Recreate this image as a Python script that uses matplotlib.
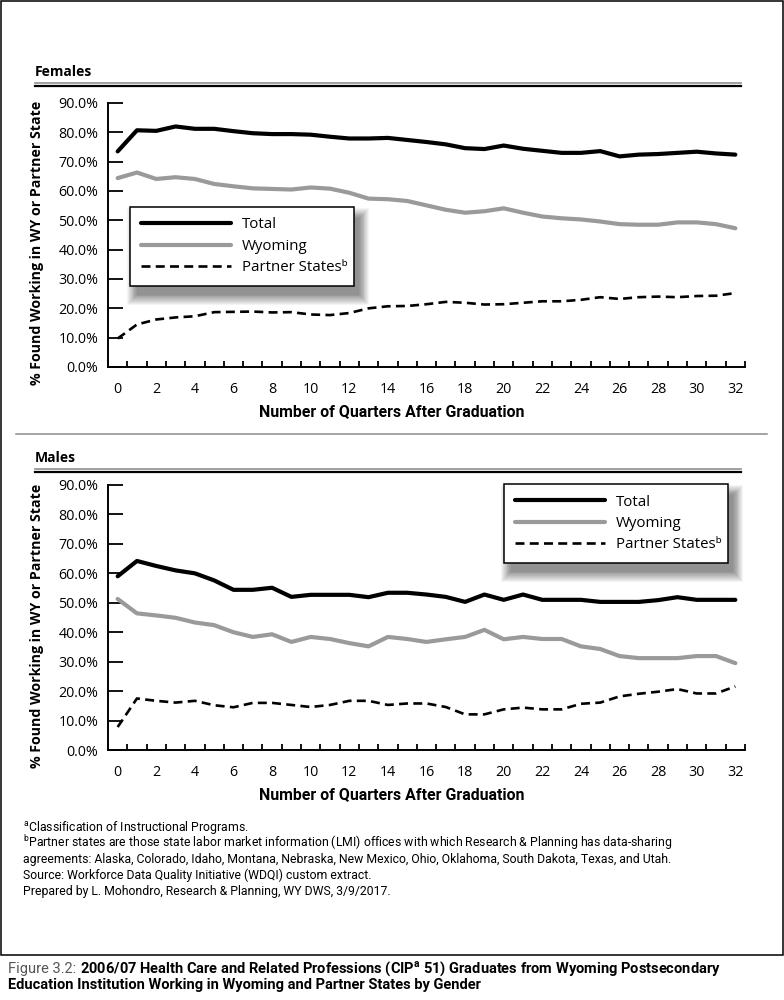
import matplotlib
matplotlib.use('Agg')
import matplotlib.pyplot as plt
from matplotlib.patches import Rectangle
from matplotlib.lines import Line2D
from matplotlib.transforms import IdentityTransform

# ---------------- data ----------------
quarters = list(range(33))
xtick_values = list(range(0, 33, 2))
ytick_values = list(range(0, 100, 10))

fem_total = [73.5, 80.7, 80.5, 82.0, 81.2, 81.2, 80.4, 79.7, 79.4, 79.4, 79.2, 78.5, 77.9,
             77.9, 78.1, 77.4, 76.7, 75.9, 74.6, 74.3, 75.5, 74.4, 73.7, 73.0, 73.0, 73.6,
             71.8, 72.4, 72.6, 73.0, 73.4, 72.8, 72.4]
fem_wyoming = [64.4, 66.3, 64.1, 64.7, 64.1, 62.4, 61.6, 60.9, 60.7, 60.5, 61.2, 60.8, 59.4,
               57.4, 57.2, 56.6, 55.1, 53.6, 52.6, 53.1, 54.1, 52.6, 51.3, 50.7, 50.3, 49.6,
               48.7, 48.5, 48.5, 49.3, 49.3, 48.7, 47.3]
fem_partner = [9.7, 14.5, 16.2, 16.9, 17.3, 18.7, 18.8, 18.9, 18.6, 18.7, 17.9, 17.7, 18.4,
               20.0, 20.7, 20.8, 21.4, 22.2, 21.9, 21.3, 21.4, 21.9, 22.4, 22.4, 22.9, 23.8,
               23.2, 23.8, 24.0, 23.8, 24.2, 24.3, 25.2]

male_total = [59.0, 64.2, 62.5, 61.0, 60.0, 57.6, 54.4, 54.4, 55.1, 52.0, 52.7, 52.7, 52.7,
              51.9, 53.4, 53.4, 52.8, 52.0, 50.3, 52.8, 51.0, 52.8, 51.0, 51.0, 51.0, 50.3,
              50.3, 50.3, 50.9, 51.9, 51.0, 51.0, 51.0]
male_wyoming = [51.3, 46.4, 45.7, 44.9, 43.3, 42.4, 40.0, 38.4, 39.3, 36.7, 38.4, 37.7, 36.3,
                35.2, 38.4, 37.7, 36.7, 37.6, 38.4, 40.8, 37.6, 38.4, 37.7, 37.7, 35.2, 34.3,
                31.9, 31.2, 31.2, 31.2, 31.9, 31.9, 29.5]
male_partner = [7.8, 17.5, 16.7, 16.1, 16.7, 15.2, 14.5, 16.0, 16.0, 15.3, 14.6, 15.3, 16.7,
                16.7, 15.3, 15.8, 15.8, 14.6, 12.1, 12.1, 13.8, 14.4, 13.8, 13.8, 15.7, 16.1,
                18.2, 19.1, 19.8, 20.7, 19.2, 19.2, 21.6]

series_labels = ['Total', 'Wyoming', 'Partner States\u1d47']
panel_titles = ['Females', 'Males']
ylabel_text = '% Found Working in WY or Partner State'
xlabel_text = 'Number of Quarters After Graduation'
footnotes = [
    '$^{\\mathrm{a}}$Classification of Instructional Programs.',
    '$^{\\mathrm{b}}$Partner states are those state labor market information (LMI) offices with which Research & Planning has data-sharing',
    'agreements: Alaska, Colorado, Idaho, Montana, Nebraska, New Mexico, Ohio, Oklahoma, South Dakota, Texas, and Utah.',
    'Source: Workforce Data Quality Initiative (WDQI) custom extract.',
    'Prepared by L. Mohondro, Research & Planning, WY DWS, 3/9/2017.',
]
caption_prefix = 'Figure 3.2:'
caption_line1 = '2006/07 Health Care and Related Professions (CIP$^{\\mathbf{a}}$ 51) Graduates from Wyoming Postsecondary'
caption_line2 = 'Education Institution Working in Wyoming and Partner States by Gender'

# ---------------- style ----------------
plt.rcParams['font.family'] = ['Open Sans', 'DejaVu Sans']
plt.rcParams['mathtext.fontset'] = 'custom'
plt.rcParams['mathtext.rm'] = 'Roboto'
plt.rcParams['mathtext.bf'] = 'Roboto:bold'

W, H = 784, 1000
fig = plt.figure(figsize=(W / 100, H / 100), dpi=100)
fig.patch.set_facecolor('white')

BLACK = '#000000'
GRAY = '#9a9a9a'
NARROW = ['Roboto', 'DejaVu Sans']


def fx(px):
    return px / W


def fy(py):
    return 1 - py / H


def make_axes(top, bottom, left=108, right=745):
    return fig.add_axes([fx(left), fy(bottom), (right - left) / W, (bottom - top) / H])


panels = [
    dict(top=103, bottom=367, data=(fem_total, fem_wyoming, fem_partner),
         title_y=72, rule_y=83, leg=(130, 207, 224, 88)),
    dict(top=485, bottom=750, data=(male_total, male_wyoming, male_partner),
         title_y=458, rule_y=469, leg=(504, 484, 224, 88)),
]

legends = []
for p, title in zip(panels, panel_titles):
    ax = make_axes(p['top'], p['bottom'])
    total, wy, partner = p['data']
    l1, = ax.plot(quarters, total, color=BLACK, lw=3.0, solid_joinstyle='round',
                  solid_capstyle='round', zorder=3)
    l2, = ax.plot(quarters, wy, color=GRAY, lw=3.0, solid_joinstyle='round',
                  solid_capstyle='round', zorder=3)
    l3, = ax.plot(quarters, partner, color=BLACK, lw=1.9, dashes=(3.4, 2.0),
                  dash_capstyle='butt', zorder=3)
    ax.set_xlim(-0.5, 32.5)
    ax.set_ylim(0, 90)
    for s in ('top', 'right'):
        ax.spines[s].set_visible(False)
    for s in ('left', 'bottom'):
        ax.spines[s].set_linewidth(1.4)
        ax.spines[s].set_color(BLACK)
    ax.set_yticks(ytick_values)
    ax.set_yticklabels([f'{v:.1f}%' for v in ytick_values])
    ax.set_xticks(xtick_values)
    ax.set_xticklabels([str(v) for v in xtick_values])
    ax.set_xticks([q + 0.5 for q in quarters], minor=True)
    ax.tick_params(axis='y', direction='in', length=11, width=1.3, pad=7,
                   labelsize=10.3, colors=BLACK)
    ax.tick_params(axis='x', which='major', length=0, pad=11, labelsize=10.3)
    ax.tick_params(axis='x', which='minor', direction='in', length=4.5, width=1.3)
    ax.set_facecolor('none')

    lx, ly, lw_, lh = p['leg']
    leg = ax.legend([l1, l2, l3], series_labels, loc='upper left',
                    bbox_to_anchor=(fx(lx), fy(ly + lh), lw_ / W, lh / H),
                    bbox_transform=fig.transFigure, mode='expand',
                    frameon=True, fancybox=False, framealpha=1, edgecolor=BLACK,
                    borderaxespad=0, handlelength=6.0, handletextpad=0.75,
                    borderpad=0.7, labelspacing=0.42, fontsize=10.8)
    leg.get_frame().set_linewidth(1.1)
    legends.append((ax, leg))

    # panel title and double rule
    fig.text(fx(35), fy(p['title_y']), title, fontweight='bold', fontsize=10,
             ha='left', va='center')
    fig.add_artist(Line2D([fx(35), fx(741)], [fy(p['rule_y'])] * 2,
                          color='#999999', lw=1.3, transform=fig.transFigure))
    fig.add_artist(Line2D([fx(35), fx(741)], [fy(p['rule_y'] + 2.7)] * 2,
                          color=BLACK, lw=1.6, transform=fig.transFigure))
    # axis titles
    fig.text(fx(37), fy((p['top'] + p['bottom']) / 2 + 8), ylabel_text, rotation=90,
             fontweight='bold', fontsize=10.2, ha='center', va='center')
    fig.text(fx(392), fy(p['bottom'] + 45), xlabel_text, family=NARROW,
             fontweight='bold', fontsize=11.4, ha='center', va='center')

# separator between panels
fig.add_artist(Line2D([fx(16), fx(767)], [fy(434)] * 2, color='#8a8a8a', lw=1.1,
                      transform=fig.transFigure))

# footnotes
for i, line in enumerate(footnotes):
    fig.text(fx(23), fy(827 + 16 * i), line, family=NARROW, fontsize=8.8,
             ha='left', va='center')

# outer frame
fig.add_artist(Rectangle((fx(0.7), fy(955)), (782.3) / W, 954.3 / H, fill=False,
                         ec=BLACK, lw=1.1, transform=fig.transFigure))

# caption
t_pref = fig.text(fx(8), fy(973), caption_prefix, family=NARROW, fontsize=10.5,
                  color='#555555', ha='left', va='baseline')
t_cap1 = fig.text(fx(80), fy(973), caption_line1, family=NARROW, fontsize=10.5,
                  fontweight='bold', ha='left', va='baseline')
fig.text(fx(8), fy(989), caption_line2, family=NARROW, fontsize=10.5,
         fontweight='bold', ha='left', va='baseline')

fig.canvas.draw()
r = fig.canvas.get_renderer()
bb = t_pref.get_window_extent(r)
t_cap1.set_x((bb.x1 + 4) / W)

# soft legend shadows
for ax, leg in legends:
    lb = leg.get_window_extent(r)
    n = 12
    for k in range(n):
        e = k * 0.9
        rect = Rectangle((lb.x0 + 7 - e, lb.y0 - 9 - e), lb.width + 2 * e - 2,
                         lb.height + 2 * e - 2, transform=IdentityTransform(),
                         facecolor='black', edgecolor='none', alpha=0.045,
                         zorder=4, clip_on=False)
        ax.add_patch(rect)

fig.savefig('out.png', dpi=100, facecolor='white')
